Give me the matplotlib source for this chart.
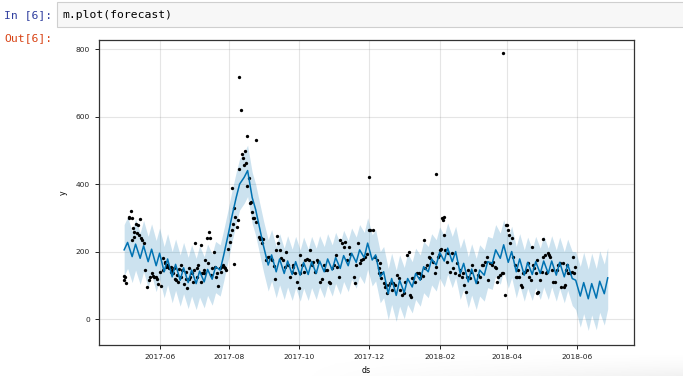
import numpy as np
import pandas as pd
import matplotlib
matplotlib.use("Agg")
import matplotlib.pyplot as plt
import matplotlib.dates as mdates

# observed points: day offset from 2017-05-01 and value
obs_day = [0, 0.3, 1, 2, 4, 4.5, 6, 6.5, 7, 8, 8.5, 9, 10, 11, 12, 13, 14, 15, 16, 17,
           18, 20, 21.7, 22.5, 24, 25, 26.2, 27.6, 29, 30, 31, 32, 33.6, 34.4, 35.6, 36, 36.4,
           37.3, 38.5, 39.6, 40.7, 41, 42, 43, 44, 44.3, 45.2, 46.6, 47, 48, 49.5, 50, 51, 52.4,
           53.8, 54, 55.3, 56.7, 57, 58, 59.6, 60, 61, 62.4, 63.8, 64, 65, 66.8, 67, 68, 69.5,
           70, 71, 72.6, 73, 74, 75.5, 76, 77, 78.4, 79.8, 80, 81.3, 82, 83.6, 84.7, 85, 86.5,
           87.6, 88.5, 89.4, 90.5, 92.3, 92.9, 94.3, 94.5, 95.2, 95.8, 96.5, 97.3, 98.7, 100,
           100.3, 100.9, 102.3, 103.2, 104, 105, 105.8, 106.5, 107.3, 107.6, 109.3, 110.5, 111,
           112, 113, 114, 115, 115.7, 117.7, 118.5, 119.5, 120.5, 121.5,
           124.5, 125.5, 126.5, 128, 129.5, 130.8, 132.3, 133.2, 134, 135, 136, 137.5, 139,
           140.5, 142, 143.5, 145.4, 146.5, 147.5, 148, 149.5, 151, 152.7, 153.5, 154, 155.5,
           157, 158.5, 160, 161.5, 162.9, 164, 165.5, 167, 168.5, 170, 171.6, 173, 174.5, 176,
           177.5, 179, 180.3, 181.5, 183.5, 185, 186.5, 188, 189, 190.5, 192, 193.5, 195, 196.5,
           198, 200.7, 202.2, 203, 204.5, 206, 207.5, 209, 210.5, 212, 213.8, 214.4,
           215.3, 217.3, 219.6, 221.1, 222.6, 223.1, 224, 224.5, 224.9, 227, 227.8, 229, 230.1,
           231.3, 232.7, 234.2, 235.6, 237.1, 238.6, 240, 241.5, 243, 244.4, 245.8, 247.3, 248.8,
           250.2, 251.1, 251.7, 253.1, 254.6, 256, 257.5, 258.9, 259.8, 261, 261.9, 263.4, 264.8,
           266.3, 267.7, 269.2, 270.6, 271.5, 272.7, 273, 274.4, 275.6, 276.4, 277.3, 277.9,
           278.8, 279.7, 280.2, 280.8, 282.3, 283.7, 285.2, 286.6, 288.1, 289.5, 291, 292.5,
           293.9, 295.4, 296.2, 297.7, 298.8, 299.7, 301.1, 302.6, 303.5, 304, 307, 308.4, 309.9,
           311.3, 312.8, 314.2, 315.7, 317.1, 318.6, 320, 321.5, 323, 324.5, 325.3, 326.5, 327.4,
           328.8, 330.3, 331, 331.7, 333.2, 334, 335.2, 336.1, 336.9, 337.5, 339, 340.5, 341.9,
           342.8, 344, 344.8, 345.7, 346.9, 347.7, 349.2, 350.6, 352.1, 353.6, 354.4, 355.6,
           356.5, 357.4, 358.6, 360.3, 360.9, 361.5, 362.3, 363.8, 365.2, 366.1, 366.7, 368.1,
           369, 370.2, 371.1, 371.9, 372.5, 373.9, 375.4, 376.8, 378.3, 379.7, 381.2, 381.8,
           383.5, 384.7, 385.6, 386.5, 387.6, 388.5, 389.9, 391.4, 392.8, 393.4, 394.3]
obs_y = [115, 127, 125, 107, 303, 300, 321, 234, 298, 269, 242, 257, 283, 254, 278, 250, 296, 240, 234, 224,
         145, 96, 115, 125, 135, 127, 125, 125, 120, 104, 138, 99, 145, 180, 170, 165, 155,
         160, 155, 150, 155, 140, 145, 135, 150, 120, 115, 130, 110, 148, 125, 160, 145, 104,
         120, 140, 91, 120, 150, 125, 135, 110, 145, 225, 125, 150, 160, 219, 110, 135, 135,
         145, 175, 239, 165, 259, 239, 130, 150, 199, 155, 125, 135, 99, 150, 155, 140, 160,
         155, 150, 145, 209, 229, 249, 264, 387, 283, 162, 330, 303, 274, 293,
         446, 716, 619, 489, 477, 456, 499, 461, 542, 395, 417, 343, 346,
         318, 298, 298, 531, 288, 244, 236, 240, 225, 236,
         175, 185, 185, 180, 175, 158, 120, 204, 246, 225, 206, 180, 175,
         155, 199, 160, 125, 140, 160, 155, 135, 110, 91, 135, 190, 160,
         140, 175, 179, 175, 206, 160, 170, 140, 175, 170, 111, 120, 160, 145,
         145, 110, 108, 150, 160, 190, 155, 125, 234, 224, 214, 229, 175, 214,
         194, 125, 106, 160, 224, 165, 175, 179, 185, 194, 264, 420,
         264, 264, 185, 175, 150, 135, 165, 121, 135, 106, 96, 101, 76,
         101, 106, 86, 106, 101, 131, 121, 86, 71, 76, 111, 190, 200,
         71, 66, 121, 121, 111, 135, 135, 121, 131, 128, 234, 150, 160,
         185, 180, 195, 170, 135, 155, 430, 183, 190, 205, 207, 298,
         293, 303, 249, 205, 170, 195, 140, 197, 150, 135, 165, 130,
         145, 125, 135, 101, 81, 125, 145, 121, 140, 160, 145, 111, 131,
         125, 160, 160, 170, 185, 116, 165, 160, 170, 155, 150, 111, 125,
         131, 135, 789, 135, 71, 278, 278, 264, 249, 224, 239, 185, 160,
         125, 125, 145, 125, 100, 96, 135, 140, 145, 165, 125, 116,
         214, 160, 150, 135, 175, 76, 81, 116, 140, 236, 185, 190,
         135, 140, 195, 190, 185, 145, 111, 111, 145, 160, 165, 96,
         165, 96, 101, 145, 160, 135, 135, 140, 185, 135, 155]

# forecast: two values per week (Monday, Thursday) from 2017-05-01
yhat = [205, 227, 185, 222, 180, 217, 170, 207, 158, 195, 140, 178, 125, 162, 115, 152,
        108, 145, 105, 142, 110, 147, 118, 155, 145, 188, 250, 300, 360, 400, 420, 440,
        360, 325, 262, 215, 160, 190, 140, 178, 135, 172, 132, 170, 130, 168, 132, 170,
        135, 172, 140, 178, 145, 182, 150, 188, 158, 195, 168, 205, 182, 225, 175, 190,
        125, 140, 75, 120, 70, 115, 78, 120, 95, 135, 115, 155, 140, 178, 160, 198,
        172, 210, 170, 200, 135, 165, 110, 148, 105, 145, 130, 170, 165, 205, 180, 220,
        168, 200, 140, 178, 130, 168, 132, 170, 135, 172, 135, 172, 130, 168, 125, 162,
        120, 115, 68, 108, 60, 105, 62, 112, 75, 122]
yhat_lower = [128, 150, 108, 145, 103, 140, 93, 130, 81, 118, 63, 101, 48, 85, 38, 75,
              31, 68, 28, 65, 33, 70, 41, 78, 68, 111, 173, 223, 283, 323, 343, 363,
              283, 248, 185, 138, 83, 113, 63, 101, 58, 95, 55, 93, 53, 91, 55, 93,
              58, 95, 63, 101, 68, 105, 73, 111, 81, 118, 91, 128, 105, 148, 98, 113,
              48, 63, -2, 43, -7, 38, 1, 43, 18, 58, 38, 78, 63, 101, 83, 121,
              95, 133, 93, 123, 58, 88, 33, 71, 28, 68, 53, 93, 88, 128, 103, 143,
              91, 123, 63, 101, 53, 91, 55, 93, 58, 95, 58, 95, 53, 91, 48, 85,
              40, 28, -24, 16, -34, 12, -32, 20, -18, 30]
yhat_upper = [280, 302, 260, 297, 255, 292, 245, 282, 233, 270, 215, 253, 200, 237, 190, 227,
              183, 220, 180, 217, 185, 222, 193, 230, 220, 263, 325, 375, 435, 475, 495, 515,
              435, 400, 337, 290, 235, 265, 215, 253, 210, 247, 207, 245, 205, 243, 207, 245,
              210, 247, 215, 253, 220, 257, 225, 263, 233, 270, 243, 280, 257, 300, 250, 265,
              200, 215, 150, 195, 145, 190, 153, 195, 170, 210, 190, 230, 215, 253, 235, 273,
              247, 285, 245, 275, 210, 240, 185, 223, 180, 220, 205, 245, 240, 280, 255, 295,
              243, 275, 215, 253, 205, 243, 207, 245, 210, 247, 210, 247, 205, 243, 200, 237,
              200, 200, 156, 198, 148, 195, 150, 202, 163, 212]

start = pd.Timestamp("2017-05-01")
obs_dates = start + pd.to_timedelta(obs_day, unit="D")
mons = pd.date_range(start, periods=len(yhat) // 2, freq="7D")
thus = mons + pd.Timedelta(days=3)
fc_dates = np.array([d for pair in zip(mons, thus) for d in pair])

fig = plt.figure(figsize=(6.83, 3.76), dpi=100)

# faint screenshot shadow along the bottom right (darker towards the corner)
shade = fig.add_axes([300 / 683, 0, 383 / 683, 24 / 376], zorder=-5)
grad = np.linspace(0, 1, 200)[None, :] * np.linspace(0, 1, 30)[:, None] ** 1.5
shade.imshow(grad, cmap="Greys", vmin=0, vmax=9, aspect="auto",
             extent=[0, 1, 0, 1])
shade.set_axis_off()

# notebook chrome
mono = "DejaVu Sans Mono"
fig.patches.append(plt.Rectangle((57 / 683, 1 - 27 / 376), 700 / 683, 25 / 376,
                                 transform=fig.transFigure, facecolor="#f7f7f7",
                                 edgecolor="#cfcfcf", linewidth=0.8))
fig.text(4 / 683, 1 - 15 / 376, "In [6]:", color="#303F9F", family=mono,
         fontsize=8.2, va="center")
fig.text(62 / 683, 1 - 15 / 376, "m.plot(forecast)", color="#000000", family=mono,
         fontsize=8.2, va="center")
fig.text(4 / 683, 1 - 38 / 376, "Out[6]:", color="#D84315", family=mono,
         fontsize=8.2, va="center")

ax = fig.add_axes([99 / 683, 1 - 345 / 376, 535 / 683, 305 / 376])
ax.plot(obs_dates, obs_y, "o", color="k", markersize=2.4, markeredgewidth=0)
ax.plot(fc_dates, yhat, ls="-", color="#0072B2", linewidth=1.1)
ax.fill_between(fc_dates, yhat_lower, yhat_upper, color="#0072B2", alpha=0.2, linewidth=0)

ax.grid(True, which="major", color="gray", ls="-", lw=0.8, alpha=0.2)
ax.set_axisbelow(True)
ax.set_xlim(pd.Timestamp("2017-04-09"), pd.Timestamp("2018-07-21"))
ax.set_ylim(-77, 827)
ax.set_yticks([0, 200, 400, 600, 800])
ax.xaxis.set_major_locator(mdates.MonthLocator(bymonth=[2, 4, 6, 8, 10, 12]))
ax.xaxis.set_major_formatter(mdates.DateFormatter("%Y-%m"))
ax.tick_params(labelsize=5.4, length=3, width=0.7, colors="#222222")
for s in ax.spines.values():
    s.set_linewidth(0.9)
    s.set_color("#333333")
ax.set_xlabel("ds", fontsize=5.6, labelpad=4)
ax.set_ylabel("y", fontsize=5.6, labelpad=6)

fig.savefig("out.png", dpi=100)
